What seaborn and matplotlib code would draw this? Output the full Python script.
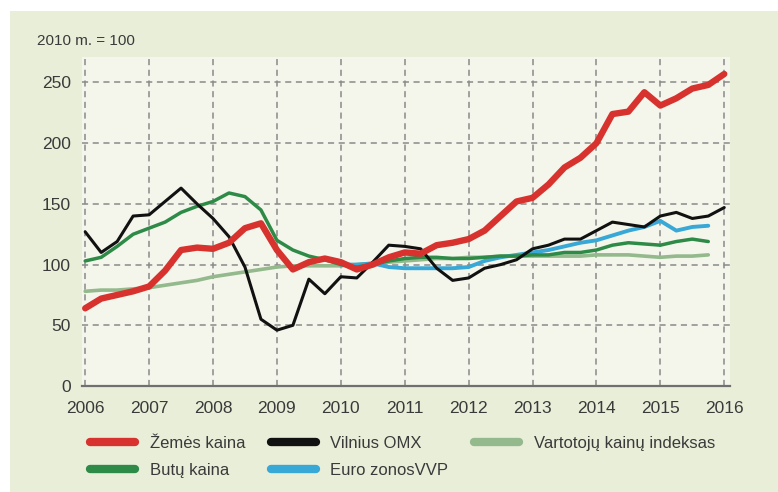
import numpy as np
import pandas as pd
import matplotlib.pyplot as plt
import seaborn as sns
from matplotlib.patches import Rectangle

sns.set_theme(style="white")
plt.rcParams['font.family'] = ['Liberation Sans', 'DejaVu Sans']

# quarterly data, 2010 m. = 100
quarters = pd.period_range("2006Q1", "2016Q1", freq="Q")
years = quarters.year + (quarters.quarter - 1) / 4.0

zemes_kaina = [64, 72, 75, 78, 82, 95, 112, 114, 113, 118, 130, 134, 112, 96, 102, 105,
               102, 96, 100, 106, 110, 109, 116, 118, 121, 128, 140, 152, 155, 166, 180, 188,
               200, 224, 226, 242, 231, 237, 245, 248, 257]
vilnius_omx = [127, 110, 119, 140, 141, 152, 163, 150, 138, 123, 98, 55, 46, 50, 88, 76,
               90, 89, 102, 116, 115, 113, 97, 87, 89, 97, 100, 104, 113, 116, 121, 121,
               128, 135, 133, 131, 140, 143, 138, 140, 147]
butu_kaina = [103, 106, 115, 125, 130, 135, 143, 148, 152, 159, 156, 145, 120, 112, 107, 104,
              100, 98, 100, 103, 105, 106, 106, 105, 105, 106, 107, 107, 108, 108, 110, 110,
              112, 116, 118, 117, 116, 119, 121, 119]
vki = [78, 79, 79, 80, 81, 83, 85, 87, 90, 92, 94, 96, 98, 99, 99, 99,
       99, 100, 101, 102, 103, 104, 105, 105, 106, 106, 107, 107, 107, 107, 107, 107,
       108, 108, 108, 107, 106, 107, 107, 108]
euro_vvp = [100, 100, 101, 98, 97, 97, 97, 97, 98, 103, 106, 108, 110, 112, 115, 118,
            120, 124, 128, 131, 136, 128, 131, 132]
euro_start = 16  # 2010 Q1

yticks = [0, 50, 100, 150, 200, 250]
xticks = list(range(2006, 2017))

BG = "#e9eed9"
PLOT_BG = "#f4f6eb"
TXT = "#3a3a3a"

fig = plt.figure(figsize=(7.78, 4.92), dpi=100)
fig.patch.set_facecolor("white")
fig.patches.append(Rectangle((10 / 778, 0), 1, 1 - 11 / 492, transform=fig.transFigure,
                             facecolor=BG, edgecolor="none", zorder=-10))

ax = fig.add_axes([82 / 778, 1 - 386 / 492, 648 / 778, 329 / 492])
ax.set_facecolor(PLOT_BG)

sns.lineplot(x=years[:len(vki)], y=vki, ax=ax, color="#93b98c", lw=2.6,
             label="Vartotojų kainų indeksas", zorder=3)
sns.lineplot(x=years[euro_start:euro_start + len(euro_vvp)], y=euro_vvp, ax=ax,
             color="#38a8d6", lw=2.8, label="Euro zonosVVP", zorder=4)
sns.lineplot(x=years[:len(butu_kaina)], y=butu_kaina, ax=ax, color="#2e8a47", lw=2.5,
             label="Butų kaina", zorder=5)
sns.lineplot(x=years, y=vilnius_omx, ax=ax, color="#111111", lw=2.2,
             label="Vilnius OMX", zorder=6)
sns.lineplot(x=years, y=zemes_kaina, ax=ax, color="#d8322e", lw=4.6,
             label="Žemės kaina", zorder=7)

ax.set_xlim(2005.95, 2016.09)
ax.set_ylim(0, 271)
ax.set_xticks(xticks)
ax.set_yticks(yticks)
ax.set_xlabel("")
ax.set_ylabel("")
ax.grid(True, color="#8a8a8a", ls=(0, (4, 3)), lw=1.1)
ax.tick_params(axis="both", length=0, labelsize=12.5, labelcolor=TXT)
ax.tick_params(axis="x", pad=11)
ax.tick_params(axis="y", pad=8)
for s in ["top", "right", "left"]:
    ax.spines[s].set_visible(False)
ax.spines["bottom"].set_color("#707070")
ax.spines["bottom"].set_linewidth(1.6)

fig.text(37 / 778, 1 - 41 / 492, "2010 m. = 100", fontsize=11, color=TXT, va="center")

h, l = ax.get_legend_handles_labels()
lookup = dict(zip(l, h))
order = ["Žemės kaina", "Butų kaina", "Vilnius OMX", "Euro zonosVVP", "Vartotojų kainų indeksas"]
ax.get_legend().remove()
leg = fig.legend([lookup[k] for k in order], order, loc="upper left",
                 bbox_to_anchor=(75 / 778, 1 - 421 / 492), ncol=3, frameon=False,
                 fontsize=12, handlelength=2.7, handletextpad=0.9, columnspacing=1.5,
                 labelspacing=0.7, labelcolor=TXT)
for line in leg.get_lines():
    line.set_linewidth(6)
    line.set_solid_capstyle("round")

fig.savefig("out.png", dpi=100, facecolor=fig.get_facecolor())
